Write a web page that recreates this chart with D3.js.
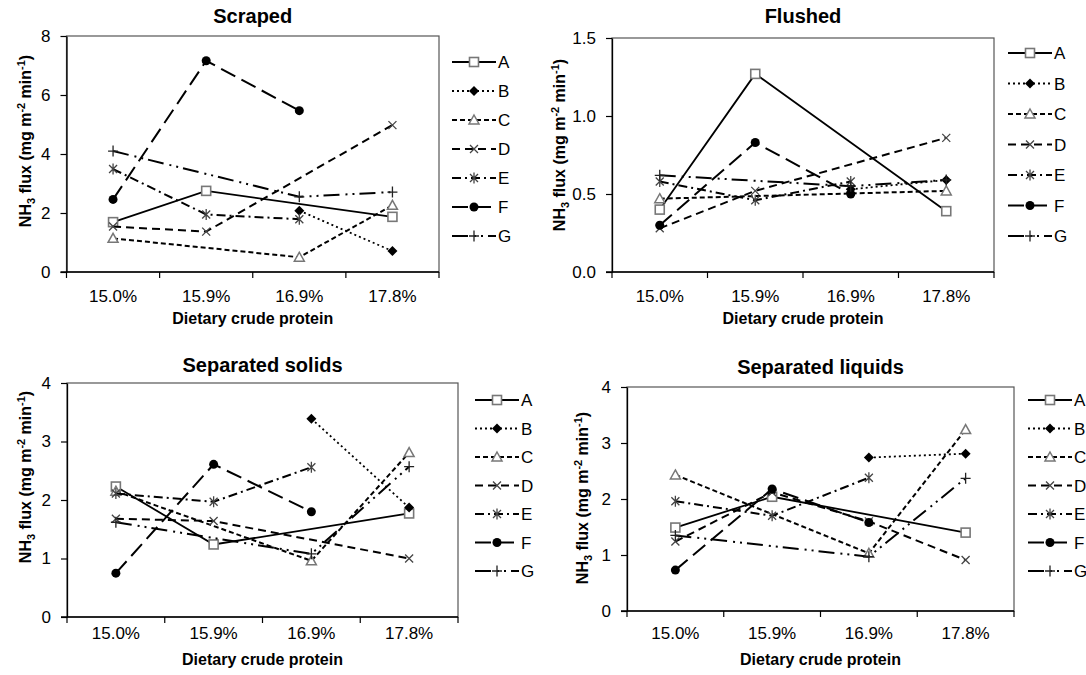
<!DOCTYPE html>
<html>
<head>
<meta charset="utf-8">
<script src="https://cdn.jsdelivr.net/npm/d3@7"></script>
<style>
body { margin: 0; background: #fff; }
text { font-family: Arial, "Liberation Sans", sans-serif; fill: #000; }
</style>
</head>
<body>
<svg id="chart" width="1086" height="675"></svg>
<script>
// Categories and series
const categories = ['15.0%', '15.9%', '16.9%', '17.8%'];
const seriesNames = ['A', 'B', 'C', 'D', 'E', 'F', 'G'];

// NH3 flux per series (rows A..G), null = no value
const scraped = [
    [1.69, 2.75, null, 1.87],
    [null, null, 2.08, 0.71],
    [1.14, null, 0.50, 2.26],
    [1.54, 1.37, null, 4.98],
    [3.49, 1.95, 1.79, null],
    [2.46, 7.16, 5.47, null],
    [4.10, null, 2.55, 2.71]
];
const flushed = [
    [0.40, 1.27, null, 0.39],
    [null, null, 0.53, 0.59],
    [0.47, null, null, 0.52],
    [0.28, 0.52, null, 0.86],
    [0.58, 0.46, 0.58, null],
    [0.30, 0.83, 0.50, null],
    [0.62, null, 0.55, 0.59]
];
const solids = [
    [2.23, 1.24, null, 1.77],
    [null, null, 3.39, 1.87],
    [2.15, null, 0.96, 2.81],
    [1.68, 1.64, null, 1.00],
    [2.11, 1.97, 2.56, null],
    [0.75, 2.61, 1.80, null],
    [1.62, null, 1.08, 2.57]
];
const liquids = [
    [1.49, 2.04, null, 1.40],
    [null, null, 2.74, 2.81],
    [2.43, null, 1.03, 3.24],
    [1.24, 2.12, 1.60, 0.91],
    [1.96, 1.70, 2.38, null],
    [0.73, 2.18, 1.58, null],
    [1.35, null, 0.97, 2.37]
];

// Y tick values
const scrapedTicks = [0, 2, 4, 6, 8];
const flushedTicks = [0, 0.5, 1.0, 1.5];
const separatedTicks = [0, 1, 2, 3, 4];

// Line style per series
const seriesStyle = {
    A: {dash: null, width: 1.8, marker: 'square'},
    B: {dash: '2,3', width: 1.8, marker: 'diamond'},
    C: {dash: '5,3', width: 2, marker: 'triangle'},
    D: {dash: '8,5', width: 2, marker: 'x'},
    E: {dash: '9,4,2,4', width: 2, marker: 'star'},
    F: {dash: '16,7', width: 2, marker: 'circle'},
    G: {dash: '16,6,2,5,2,5', width: 2, marker: 'plus'}
};

const svg = d3.select('#chart');

// Panel layout
const panels = [
    {title: 'Scraped', data: scraped, ticks: scrapedTicks, fmt: d3.format('d'),
     x0: 66.5, x1: 439, top: 36, bottom: 272, titleY: 23, tickY: 302, xTitleY: 324,
     yLabelX: 31, yLabelY: 141, legendX: 452, legendY: 62, legendDy: 29},
    {title: 'Flushed', data: flushed, ticks: flushedTicks, fmt: d3.format('.1f'),
     x0: 612, x1: 994, top: 38, bottom: 272, titleY: 23, tickY: 302, xTitleY: 324,
     yLabelX: 565, yLabelY: 145, legendX: 1008, legendY: 53, legendDy: 30.5},
    {title: 'Separated solids', data: solids, ticks: separatedTicks, fmt: d3.format('d'),
     x0: 67, x1: 458, top: 383, bottom: 617, titleY: 372, tickY: 639, xTitleY: 665,
     yLabelX: 31, yLabelY: 477, legendX: 475, legendY: 400, legendDy: 28.5},
    {title: 'Separated liquids', data: liquids, ticks: separatedTicks, fmt: d3.format('d'),
     x0: 627, x1: 1014, top: 387, bottom: 611, titleY: 374, tickY: 639, xTitleY: 665,
     yLabelX: 588, yLabelY: 498, legendX: 1028, legendY: 400, legendDy: 28.5}
];

// Draw a marker at x,y
function drawMarker(g, type, x, y) {
    const m = g.append('g').attr('transform', `translate(${x},${y})`);
    if (type === 'square') {
        m.append('rect').attr('x', -4.5).attr('y', -4.5).attr('width', 9).attr('height', 9)
            .attr('fill', '#fff').attr('stroke', '#777').attr('stroke-width', 1.6);
    } else if (type === 'diamond') {
        m.append('path').attr('d', 'M0,-5L5,0L0,5L-5,0Z').attr('fill', '#000');
    } else if (type === 'triangle') {
        m.append('path').attr('d', 'M0,-5L5,4L-5,4Z')
            .attr('fill', '#fff').attr('stroke', '#777').attr('stroke-width', 1.5);
    } else if (type === 'x' || type === 'star') {
        m.append('path').attr('d', 'M-4,-4L4,4M-4,4L4,-4' + (type === 'star' ? 'M0,-5.5L0,5.5' : ''))
            .attr('stroke', '#444').attr('stroke-width', 1.3).attr('fill', 'none');
    } else if (type === 'circle') {
        m.append('circle').attr('r', 4.5).attr('fill', '#000');
    } else if (type === 'plus') {
        m.append('path').attr('d', 'M-5,0L5,0M0,-5.5L0,5.5')
            .attr('stroke', '#222').attr('stroke-width', 1.3).attr('fill', 'none');
    }
}

// Rotated y axis title with sub/superscripts
function yTitle(g, x, y) {
    const t = g.append('text')
        .attr('transform', `translate(${x},${y}) rotate(-90)`)
        .attr('text-anchor', 'middle')
        .attr('font-size', 16).attr('font-weight', 'bold');
    t.append('tspan').text('NH');
    t.append('tspan').attr('font-size', 11).attr('dy', 4).text('3');
    t.append('tspan').attr('dy', -4).text(' flux (mg m');
    t.append('tspan').attr('font-size', 11).attr('dy', -6).text('-2');
    t.append('tspan').attr('dy', 6).text(' min');
    t.append('tspan').attr('font-size', 11).attr('dy', -6).text('-1');
    t.append('tspan').attr('dy', 6).text(')');
}

panels.forEach(p => {
    const g = svg.append('g');

    const x = d3.scaleBand().domain(categories).range([p.x0, p.x1]).padding(0);
    const y = d3.scaleLinear().domain([0, d3.max(p.ticks)]).range([p.bottom, p.top]);
    const cx = c => x(c) + x.bandwidth() / 2;

    // Plot frame
    g.append('rect')
        .attr('x', p.x0).attr('y', p.top)
        .attr('width', p.x1 - p.x0).attr('height', p.bottom - p.top)
        .attr('fill', 'none').attr('stroke', '#555').attr('stroke-width', 1.2);

    // Y axis
    const yAxis = g.append('g')
        .attr('transform', `translate(${p.x0},0)`)
        .call(d3.axisLeft(y).tickValues(p.ticks).tickFormat(p.fmt).tickSize(6).tickSizeOuter(0).tickPadding(10));
    yAxis.select('.domain').attr('stroke', '#000').attr('stroke-width', 1.3);
    yAxis.selectAll('.tick line').attr('stroke', '#000').attr('stroke-width', 1.2);
    yAxis.selectAll('.tick text')
        .attr('font-family', 'Arial, "Liberation Sans", sans-serif')
        .attr('font-size', 17).attr('fill', '#000');

    // X axis line and boundary ticks
    g.append('line')
        .attr('x1', p.x0 - 6).attr('x2', p.x1)
        .attr('y1', p.bottom).attr('y2', p.bottom)
        .attr('stroke', '#000').attr('stroke-width', 1.3);
    const edges = categories.map(c => x(c)).concat([p.x1]);
    g.selectAll('.xtick').data(edges).enter().append('line')
        .attr('x1', d => d).attr('x2', d => d)
        .attr('y1', p.bottom).attr('y2', p.bottom + 6)
        .attr('stroke', '#000').attr('stroke-width', 1.2);
    g.selectAll('.xlabel').data(categories).enter().append('text')
        .attr('x', d => cx(d)).attr('y', p.tickY)
        .attr('text-anchor', 'middle').attr('font-size', 17)
        .text(d => d);

    // Titles
    g.append('text')
        .attr('x', (p.x0 + p.x1) / 2).attr('y', p.titleY)
        .attr('text-anchor', 'middle').attr('font-size', 20).attr('font-weight', 'bold')
        .text(p.title);
    g.append('text')
        .attr('x', (p.x0 + p.x1) / 2).attr('y', p.xTitleY)
        .attr('text-anchor', 'middle').attr('font-size', 16).attr('font-weight', 'bold')
        .text('Dietary crude protein');
    yTitle(g, p.yLabelX, p.yLabelY);

    // Series lines, gaps are bridged
    const line = d3.line().x(d => cx(d.cat)).y(d => y(d.v));
    p.data.forEach((vals, i) => {
        const name = seriesNames[i];
        const st = seriesStyle[name];
        const pts = vals.map((v, j) => ({cat: categories[j], v}))
            .filter(d => d.v !== null);
        g.append('path')
            .datum(pts)
            .attr('d', line)
            .attr('fill', 'none')
            .attr('stroke', '#000')
            .attr('stroke-width', st.width)
            .attr('stroke-dasharray', st.dash);
        pts.forEach(d => drawMarker(g, st.marker, cx(d.cat), y(d.v)));
    });

    // Legend
    seriesNames.forEach((name, i) => {
        const st = seriesStyle[name];
        const ly = p.legendY + i * p.legendDy;
        g.append('line')
            .attr('x1', p.legendX).attr('x2', p.legendX + 44)
            .attr('y1', ly).attr('y2', ly)
            .attr('stroke', '#000').attr('stroke-width', st.width)
            .attr('stroke-dasharray', st.dash);
        drawMarker(g, st.marker, p.legendX + 22, ly);
        g.append('text')
            .attr('x', p.legendX + 46).attr('y', ly + 6)
            .attr('font-size', 17)
            .text(name);
    });
});
</script>
</body>
</html>
